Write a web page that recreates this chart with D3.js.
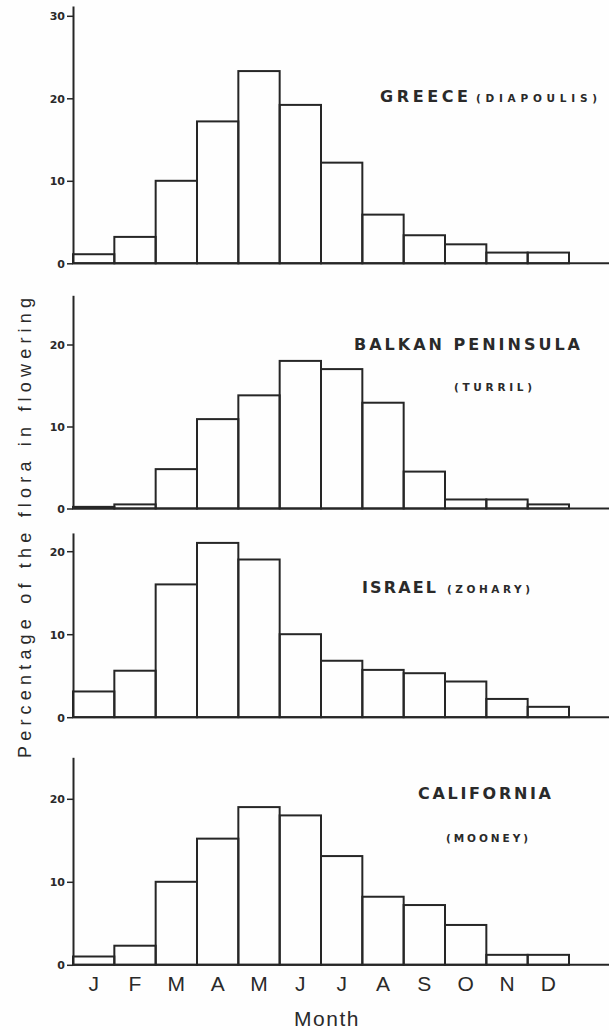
<!DOCTYPE html>
<html>
<head>
<meta charset="utf-8">
<script src="https://cdn.jsdelivr.net/npm/d3@7"></script>
<style>
  body { margin: 0; background: #fefefe; }
  svg { display: block; }
  text { fill: #2a2a2a; font-family: "Liberation Sans", Arial, sans-serif; }
  .title { font-family: "DejaVu Sans", sans-serif; font-weight: bold; }
</style>
</head>
<body>
<div id="chart-area"></div>
<script>
// monthly share of the flora in flowering (%)
const months = ["J", "F", "M", "A", "M", "J", "J", "A", "S", "O", "N", "D"]
const greece = [1.1, 3.2, 10, 17.2, 23.3, 19.2, 12.2, 5.9, 3.4, 2.3, 1.3, 1.3]
const balkan = [0.2, 0.5, 4.8, 10.9, 13.8, 18, 17, 12.9, 4.5, 1.1, 1.1, 0.5]
const israel = [3.1, 5.6, 16, 21, 19, 10, 6.8, 5.7, 5.3, 4.3, 2.2, 1.25]
const california = [1.0, 2.3, 10, 15.2, 19, 18, 13.1, 8.2, 7.2, 4.8, 1.2, 1.2]

const greeceTicks = [0, 10, 20, 30]
const otherTicks = [0, 10, 20]

const titles = ["GREECE", "BALKAN PENINSULA", "ISRAEL", "CALIFORNIA"]
const sources = ["(DIAPOULIS)", "(TURRIL)", "(ZOHARY)", "(MOONEY)"]

const WIDTH = 609, HEIGHT = 1030
const AXIS_X = 73, LAST_X = 569
const INK = "#262626"

// where each panel sits on the page
const panels = [
  { values: greece, ticks: greeceTicks, base: 263.3, unit: 8.25, top: 31.2,
    title: { x: 380, y: 102, w: 88 }, src: { x: 476, y: 102, w: 121 } },
  { values: balkan, ticks: otherTicks, base: 508.5, unit: 8.2, top: 26,
    title: { x: 354, y: 350, w: 226 }, src: { x: 454, y: 391, w: 78 } },
  { values: israel, ticks: otherTicks, base: 717.2, unit: 8.3, top: 22.2,
    title: { x: 362, y: 593, w: 74 }, src: { x: 447, y: 593, w: 83 } },
  { values: california, ticks: otherTicks, base: 964.8, unit: 8.3, top: 25,
    title: { x: 418, y: 799, w: 133 }, src: { x: 446, y: 842, w: 82 } }
]

const svg = d3.select("#chart-area").append("svg")
  .attr("width", WIDTH)
  .attr("height", HEIGHT)

svg.append("rect")
  .attr("width", WIDTH)
  .attr("height", HEIGHT)
  .attr("fill", "#fefefe")

// shared month scale
const x = d3.scaleBand()
  .domain(d3.range(months.length))
  .range([AXIS_X, LAST_X])
  .padding(0)

panels.forEach((p, i) => {
  const g = svg.append("g").attr("class", "panel")

  const y = d3.scaleLinear()
    .domain([0, p.top])
    .range([p.base, p.base - p.top * p.unit])

  // baseline running to the page edge
  g.append("line")
    .attr("x1", AXIS_X)
    .attr("x2", WIDTH)
    .attr("y1", y(0))
    .attr("y2", y(0))
    .attr("stroke", INK)
    .attr("stroke-width", 2)

  g.selectAll("rect.bar")
    .data(p.values)
    .enter().append("rect")
      .attr("class", "bar")
      .attr("x", (d, j) => x(j))
      .attr("width", x.bandwidth())
      .attr("y", d => y(d))
      .attr("height", d => y(0) - y(d))
      .attr("fill", "none")
      .attr("stroke", INK)
      .attr("stroke-width", 2)

  const yAxisCall = d3.axisLeft(y)
    .tickValues(p.ticks)
    .tickSize(6)
    .tickSizeOuter(0)
    .tickPadding(2)
    .tickFormat(d3.format("d"))

  const ax = g.append("g")
    .attr("class", "yaxis")
    .attr("transform", `translate(${AXIS_X}, 0)`)
    .call(yAxisCall)
  ax.select(".domain").attr("stroke", INK).attr("stroke-width", 2)
  ax.selectAll(".tick line").attr("stroke", INK).attr("stroke-width", 1.5)
  ax.selectAll(".tick text")
    .style("font-size", "11px")
    .style("font-weight", "bold")
    .style("font-family", "'DejaVu Sans', sans-serif")
    .attr("fill", INK)
    .attr("dy", "0.36em")

  // panel title and source
  g.append("text")
    .attr("class", "title")
    .attr("x", p.title.x)
    .attr("y", p.title.y)
    .attr("font-size", "16px")
    .attr("textLength", p.title.w)
    .attr("lengthAdjust", "spacing")
    .text(titles[i])

  g.append("text")
    .attr("class", "title")
    .attr("x", p.src.x)
    .attr("y", p.src.y)
    .attr("font-size", "10.5px")
    .attr("textLength", p.src.w)
    .attr("lengthAdjust", "spacing")
    .text(sources[i])
})

// month letters under the last panel
svg.selectAll("text.month")
  .data(months)
  .enter().append("text")
    .attr("class", "month")
    .attr("x", (d, j) => x(j) + x.bandwidth() / 2)
    .attr("y", 991)
    .attr("text-anchor", "middle")
    .attr("font-size", "21px")
    .text(d => d)

svg.append("text")
  .attr("x", 327)
  .attr("y", 1026)
  .attr("text-anchor", "middle")
  .attr("font-size", "21px")
  .attr("letter-spacing", "1.5px")
  .text("Month")

svg.append("text")
  .attr("transform", "rotate(-90)")
  .attr("x", -528)
  .attr("y", 31)
  .attr("text-anchor", "middle")
  .attr("font-size", "18px")
  .attr("textLength", 460)
  .attr("lengthAdjust", "spacing")
  .text("Percentage of the flora in flowering")
</script>
</body>
</html>
